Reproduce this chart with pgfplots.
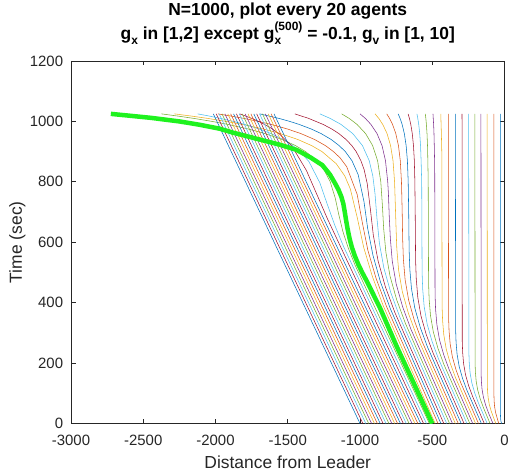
\documentclass[border=0pt]{standalone}
\usepackage{fontspec}
\setmainfont{Liberation Sans}
\usepackage{pgfplots}
\pgfplotsset{compat=1.18}
\definecolor{c0}{rgb}{0,0.447,0.741}
\definecolor{c1}{rgb}{0.850,0.325,0.098}
\definecolor{c2}{rgb}{0.929,0.694,0.125}
\definecolor{c3}{rgb}{0.494,0.184,0.556}
\definecolor{c4}{rgb}{0.466,0.674,0.188}
\definecolor{c5}{rgb}{0.301,0.745,0.933}
\definecolor{c6}{rgb}{0.635,0.078,0.184}
\definecolor{axgray}{rgb}{0.15,0.15,0.15}
\definecolor{hl}{rgb}{0.12,0.95,0.12}
\newcommand{\sub}[1]{\raisebox{-5bp}{\fontsize{12}{12}\selectfont #1}}
\newcommand{\sups}[1]{\raisebox{9bp}{\fontsize{12}{12}\selectfont #1}}
\begin{document}
\begin{tikzpicture}
\begin{axis}[
  at={(0,0)}, anchor=south west,
  scale only axis, width=433.5bp, height=362.5bp,
  xmin=-3000, xmax=0, ymin=0, ymax=1200,
  xtick={-3000,-2500,-2000,-1500,-1000,-500,0},
  ytick={0,200,400,600,800,1000,1200},
  xticklabels={-3000,-2500,-2000,-1500,-1000,-500,0},
  yticklabels={0,200,400,600,800,1000,1200},
  tick align=inside, major tick length=4.5bp,
  axis line style={axgray, line width=0.8bp},
  tick style={axgray, line width=0.8bp},
  ticklabel style={font=\fontsize{15}{18}\selectfont, text=axgray},
  xticklabel style={inner sep=0pt, anchor=north, yshift=-11.5bp},
  yticklabel style={inner sep=0pt, anchor=east, xshift=-7.7bp},
  every axis plot/.append style={line width=0.55bp},
]
% ---- agents ahead of 500 ----
\addplot[c0] coordinates {(-20,0) (-24,6) (-27,15) (-28,30) (-28,1025)};
\addplot[c1] coordinates {(-40,0) (-50,17) (-61.5,36) (-68.4,55) (-71.7,74) (-73.1,93) (-74,1025)};
\addplot[c2] coordinates {(-60,0) (-74.5,18) (-91.9,40.5) (-105.2,63) (-113.3,85.5) (-117.3,108) (-119,130.5) (-120,1025)};
\addplot[c3] coordinates {(-80,0) (-110.5,35) (-130.6,61) (-145.9,87) (-155.3,113) (-159.9,139) (-161.8,165) (-163,1025)};
\addplot[c4] coordinates {(-100,0) (-145.4,52) (-168.2,81.5) (-185.6,111) (-196.2,140.5) (-201.4,170) (-203.6,199.5) (-205,1025)};
\addplot[c5] coordinates {(-120,0) (-181.3,69) (-206.8,102) (-226.3,135) (-238.2,168) (-244,201) (-246.5,234) (-248,1025)};
\addplot[c6] coordinates {(-140,0) (-220.3,89) (-248.5,125.5) (-270,162) (-283.2,198.5) (-289.6,235) (-292.3,271.5) (-294,1025)};
\addplot[c0] coordinates {(-160,0) (-259.2,109) (-290.1,149) (-313.7,189) (-328.1,229) (-335.2,269) (-338.2,309) (-340,1025)};
\addplot[c1] coordinates {(-180,0) (-301.1,133) (-334.8,176.5) (-360.4,220) (-376.1,263.5) (-383.7,307) (-387,350.5) (-389,1025)};
\addplot[c2] coordinates {(-200,0) (-339.1,152) (-375.4,199) (-403.1,246) (-420,293) (-428.3,340) (-431.8,387) (-434,900) (-436.9,960) (-441,1025)};
\addplot[c3] coordinates {(-220,0) (-381,176) (-420,226.5) (-449.8,277) (-468,327.5) (-476.9,378) (-480.7,428.5) (-483,850) (-485.9,920) (-488,960) (-490.5,990) (-495,1025)};
\addplot[c4] coordinates {(-240,0) (-418.9,195) (-460.7,249) (-492.5,303) (-512,357) (-521.5,411) (-525.5,465) (-528,800) (-530.5,870) (-532.8,920) (-536.3,960) (-540.5,990) (-544.3,1010) (-548,1025)};
\addplot[c5] coordinates {(-260,0) (-456.8,214) (-501.3,271.5) (-535.2,329) (-555.9,386.5) (-566,444) (-570.4,501.5) (-573,800) (-577.1,870) (-581,920) (-586.7,960) (-593.6,990) (-600,1010) (-606,1025)};
\addplot[c6] coordinates {(-280,0) (-494.8,234) (-541.9,295) (-577.9,356) (-599.9,417) (-610.6,478) (-615.2,539) (-618,700) (-620.3,800) (-624,870) (-629.9,920) (-638.4,960) (-648.5,990) (-658,1010) (-667,1025)};
\addplot[c0] coordinates {(-300,0) (-532.7,253) (-582.6,317.5) (-620.6,382) (-643.8,446.5) (-655.2,511) (-660,575.5) (-663,700) (-666.5,800) (-672,870) (-680.7,920) (-693.3,960) (-708.5,990) (-722.6,1010) (-736,1025)};
\addplot[c1] coordinates {(-320,0) (-570.6,272) (-623.2,340) (-663.3,408) (-687.8,476) (-699.8,544) (-704.9,612) (-708,700) (-711,760) (-713.1,800) (-721.2,870) (-733.9,920) (-752.5,960) (-774.7,990) (-795.4,1010) (-815,1025)};
\addplot[c2] coordinates {(-340,0) (-609.6,293) (-664.8,364.5) (-707,436) (-732.8,507.5) (-745.3,579) (-750.7,650.5) (-754,700) (-758,760) (-760.8,800) (-771.5,870) (-788.4,920) (-813,960) (-842.5,990) (-870,1010) (-896,1025)};
\addplot[c3] coordinates {(-360,0) (-647.5,312) (-705.5,387) (-749.6,462) (-776.7,537) (-789.9,612) (-797.6,687) (-803.3,760) (-808.1,800) (-823.7,870) (-847.6,920) (-882.5,960) (-924.2,990) (-963.1,1010) (-1000,1025)};
\addplot[c4] coordinates {(-380,0) (-685.4,331) (-746.1,409.5) (-792.3,488) (-820.7,566.5) (-836.2,645) (-845.2,723.5) (-856.1,800) (-878.3,870) (-912.5,920) (-961.6,960) (-1020.3,990) (-1075.1,1010) (-1127,1025)};
\addplot[c5] coordinates {(-400,0) (-723.4,351) (-786.7,433) (-835,515) (-865.8,597) (-882.7,679) (-896.2,761) (-911.5,820) (-936.1,870) (-983.1,920) (-1050.6,960) (-1131.3,990) (-1206.6,1010) (-1278,1025)};
\addplot[c6] coordinates {(-420,0) (-758.3,367) (-824.4,452.5) (-874.7,538) (-907.9,623.5) (-928,709) (-950.2,794.5) (-971.2,840) (-993.7,870) (-1026.3,900) (-1056.8,920) (-1095.9,940) (-1147,960) (-1195.6,975) (-1255,990) (-1355.6,1010) (-1451,1025)};
\addplot[c0] coordinates {(-440,0) (-789.2,379) (-858,468) (-910.4,557) (-946.9,646) (-972.6,735) (-1012.8,824) (-1055.7,870) (-1101.4,900) (-1144.5,920) (-1198.8,940) (-1270.2,960) (-1338,975) (-1420.7,990) (-1485.9,1000) (-1560.9,1010) (-1694,1025)};
\addplot[c1] coordinates {(-460,0) (-817.1,388) (-888.7,480.5) (-945.3,573) (-984.1,665.5) (-1019.4,758) (-1092.4,850.5) (-1138.9,880) (-1183.6,900) (-1239.5,920) (-1313.5,940) (-1410.5,960) (-1502.8,975) (-1614.5,990) (-1702.7,1000) (-1804.2,1010) (-1895.8,1018) (-1984,1025)};
\addplot[c2] coordinates {(-480,0) (-841.1,392) (-915.3,488) (-975,584) (-1018.3,680) (-1066.6,776) (-1106,820) (-1164.6,860) (-1262.6,900) (-1335,920) (-1429.3,940) (-1552.9,960) (-1670.3,975) (-1812.8,990) (-1925.3,1000) (-2054.6,1010) (-2171.5,1018) (-2285,1025)};
% agent 500 (thin, hidden under highlight)
\addplot[c3] coordinates {(-500,0) (-620,125) (-745,254) (-861,382) (-954,472) (-985,500) (-1012,527) (-1036,555) (-1056,583) (-1072,612) (-1085,642) (-1096,672) (-1106,702) (-1116,729) (-1130,752) (-1150,775) (-1175,797) (-1208,824) (-1260,855) (-1340,880) (-1440,906) (-1556,923) (-1694,940) (-1880,963) (-1972,976) (-2111,989) (-2250,1000) (-2450,1012) (-2724,1025)};
% ---- agents behind 500 ----
\addplot[c4] coordinates {(-520,0) (-1035.7,526) (-1081.5,581) (-1118.7,636) (-1146.5,691) (-1171.3,746) (-1206.7,801) (-1249.5,840) (-1300.7,870) (-1376.1,900) (-1446.5,920) (-1538.3,940) (-1659,960) (-1773.5,975) (-1913.2,990) (-2023.4,1000) (-2150.2,1010) (-2264.8,1018) (-2375,1025)};
\addplot[c5] coordinates {(-540,0) (-1114.9,587) (-1175,657) (-1227.4,727) (-1278,797) (-1353.4,867) (-1414.1,900) (-1465.3,920) (-1531.2,940) (-1617.1,960) (-1698.5,975) (-1797.5,990) (-1875.5,1000) (-1965.3,1010) (-2046.2,1018) (-2124.2,1025)};
\addplot[c6] coordinates {(-560,0) (-1225.6,678) (-1298.2,758) (-1371.1,838) (-1471.2,918) (-1561.5,960) (-1622.5,980) (-1692.2,998) (-1748.7,1010) (-1832.7,1025)};
\addplot[c0] coordinates {(-580,0) (-1595,1025)};
\addplot[c1] coordinates {(-600,0) (-1615,1025)};
\addplot[c2] coordinates {(-620,0) (-1635,1025)};
\addplot[c3] coordinates {(-640,0) (-1655,1025)};
\addplot[c4] coordinates {(-660,0) (-1675,1025)};
\addplot[c5] coordinates {(-680,0) (-1695,1025)};
\addplot[c6] coordinates {(-700,0) (-1715,1025)};
\addplot[c0] coordinates {(-720,0) (-1735,1025)};
\addplot[c1] coordinates {(-740,0) (-1755,1025)};
\addplot[c2] coordinates {(-760,0) (-1775,1025)};
\addplot[c3] coordinates {(-780,0) (-1795,1025)};
\addplot[c4] coordinates {(-800,0) (-1815,1025)};
\addplot[c5] coordinates {(-820,0) (-1835,1025)};
\addplot[c6] coordinates {(-840,0) (-1855,1025)};
\addplot[c0] coordinates {(-860,0) (-1875,1025)};
\addplot[c1] coordinates {(-880,0) (-1895,1025)};
\addplot[c2] coordinates {(-900,0) (-1915,1025)};
\addplot[c3] coordinates {(-920,0) (-1935,1025)};
\addplot[c4] coordinates {(-940,0) (-1955,1025)};
\addplot[c5] coordinates {(-960,0) (-1975,1025)};
\addplot[c6] coordinates {(-980,0) (-1995,1025)};
\addplot[c0] coordinates {(-1000,0) (-2015,1025)};
% ---- highlighted agent 500 ----
\addplot[hl, line width=4.5bp, line join=round] coordinates {(-500,0) (-620,125) (-745,254) (-861,382) (-954,472) (-985,500) (-1012,527) (-1036,555) (-1056,583) (-1072,612) (-1085,642) (-1096,672) (-1106,702) (-1116,729) (-1130,752) (-1150,775) (-1175,797) (-1208,824) (-1260,855) (-1340,880) (-1440,906) (-1556,923) (-1694,940) (-1880,963) (-1972,976) (-2111,989) (-2250,1000) (-2450,1012) (-2724,1025)};
\end{axis}
\node[anchor=base, font=\fontsize{17.5}{20}\selectfont, text=axgray] at (216.75bp,-44.8bp) {Distance from Leader};
\node[anchor=base, rotate=90, font=\fontsize{17.5}{20}\selectfont, text=axgray] at (-49bp,181.25bp) {Time (sec)};
\node[anchor=base, font=\bfseries\fontsize{17.5}{20}\selectfont, inner sep=0pt] at (216.75bp,407.5bp) {N=1000, plot every 20 agents};
\node[anchor=base, font=\bfseries\fontsize{17.5}{20}\selectfont, inner sep=0pt] at (216.75bp,383.5bp) {g\sub{x} in [1,2] except g\rlap{\sub{x}}\sups{(500)} = -0.1, g\sub{v} in [1, 10]};
\pgfresetboundingbox
\path[use as bounding box] (-71bp,-52.5bp) rectangle (439bp,423.5bp);
\end{tikzpicture}
\end{document}
